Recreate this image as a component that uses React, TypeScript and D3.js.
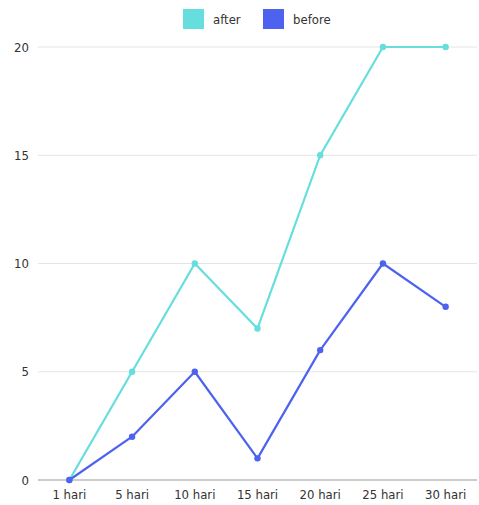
import React from "react";
import * as d3 from "d3";

const categories = ["1 hari", "5 hari", "10 hari", "15 hari", "20 hari", "25 hari", "30 hari"];
const afterValues = [0, 5, 10, 7, 15, 20, 20];
const beforeValues = [0, 2, 5, 1, 6, 10, 8];
const yTicks = [0, 5, 10, 15, 20];
const seriesNames = ["after", "before"];
const colors = ["#66dede", "#4d62ee"];

const W = 479, H = 505;
const FONT = "'DejaVu Sans Condensed', 'Liberation Sans Narrow', 'DejaVu Sans', sans-serif";

export default function App() {
  const x = d3.scaleBand<string>().domain(categories).range([38, 477]);
  const y = d3.scaleLinear().domain([0, 20]).range([480, 47]);
  const cx = (c: string) => (x(c) as number) + x.bandwidth() / 2;
  const line = d3.line<[string, number]>().x(d => cx(d[0])).y(d => y(d[1]));
  const series = [afterValues, beforeValues];
  return (
    <svg width={W} height={H} style={{ position: "absolute", left: 0, top: 0, background: "#fff" }} fontFamily={FONT}>
      {yTicks.map(t => (
        <g key={t}>
          <line x1={38} x2={477} y1={y(t)} y2={y(t)} stroke={t === 0 ? "#999" : "#e4e4e4"} strokeWidth={1} />
          <text x={29} y={y(t)} dy="0.35em" textAnchor="end" fontSize={13} fill="#333">{t}</text>
        </g>
      ))}
      {categories.map(c => (
        <text key={c} x={cx(c)} y={499} textAnchor="middle" fontSize={13} fill="#333">{c}</text>
      ))}
      {series.map((vals, i) => {
        const pts = categories.map((c, j) => [c, vals[j]] as [string, number]);
        return (
          <g key={i}>
            <path d={line(pts) || ""} fill="none" stroke={colors[i]} strokeWidth={2.2} strokeLinejoin="round" />
            {pts.map((p, j) => (
              <circle key={j} cx={cx(p[0])} cy={y(p[1])} r={3.2} fill={colors[i]} />
            ))}
          </g>
        );
      })}
      {seriesNames.map((n, i) => {
        const lx = i === 0 ? 183 : 263;
        return (
          <g key={n}>
            <rect x={lx} y={9} width={21} height={20} fill={colors[i]} />
            <text x={lx + 30} y={19} dy="0.35em" fontSize={13} fill="#333">{n}</text>
          </g>
        );
      })}
    </svg>
  );
}
